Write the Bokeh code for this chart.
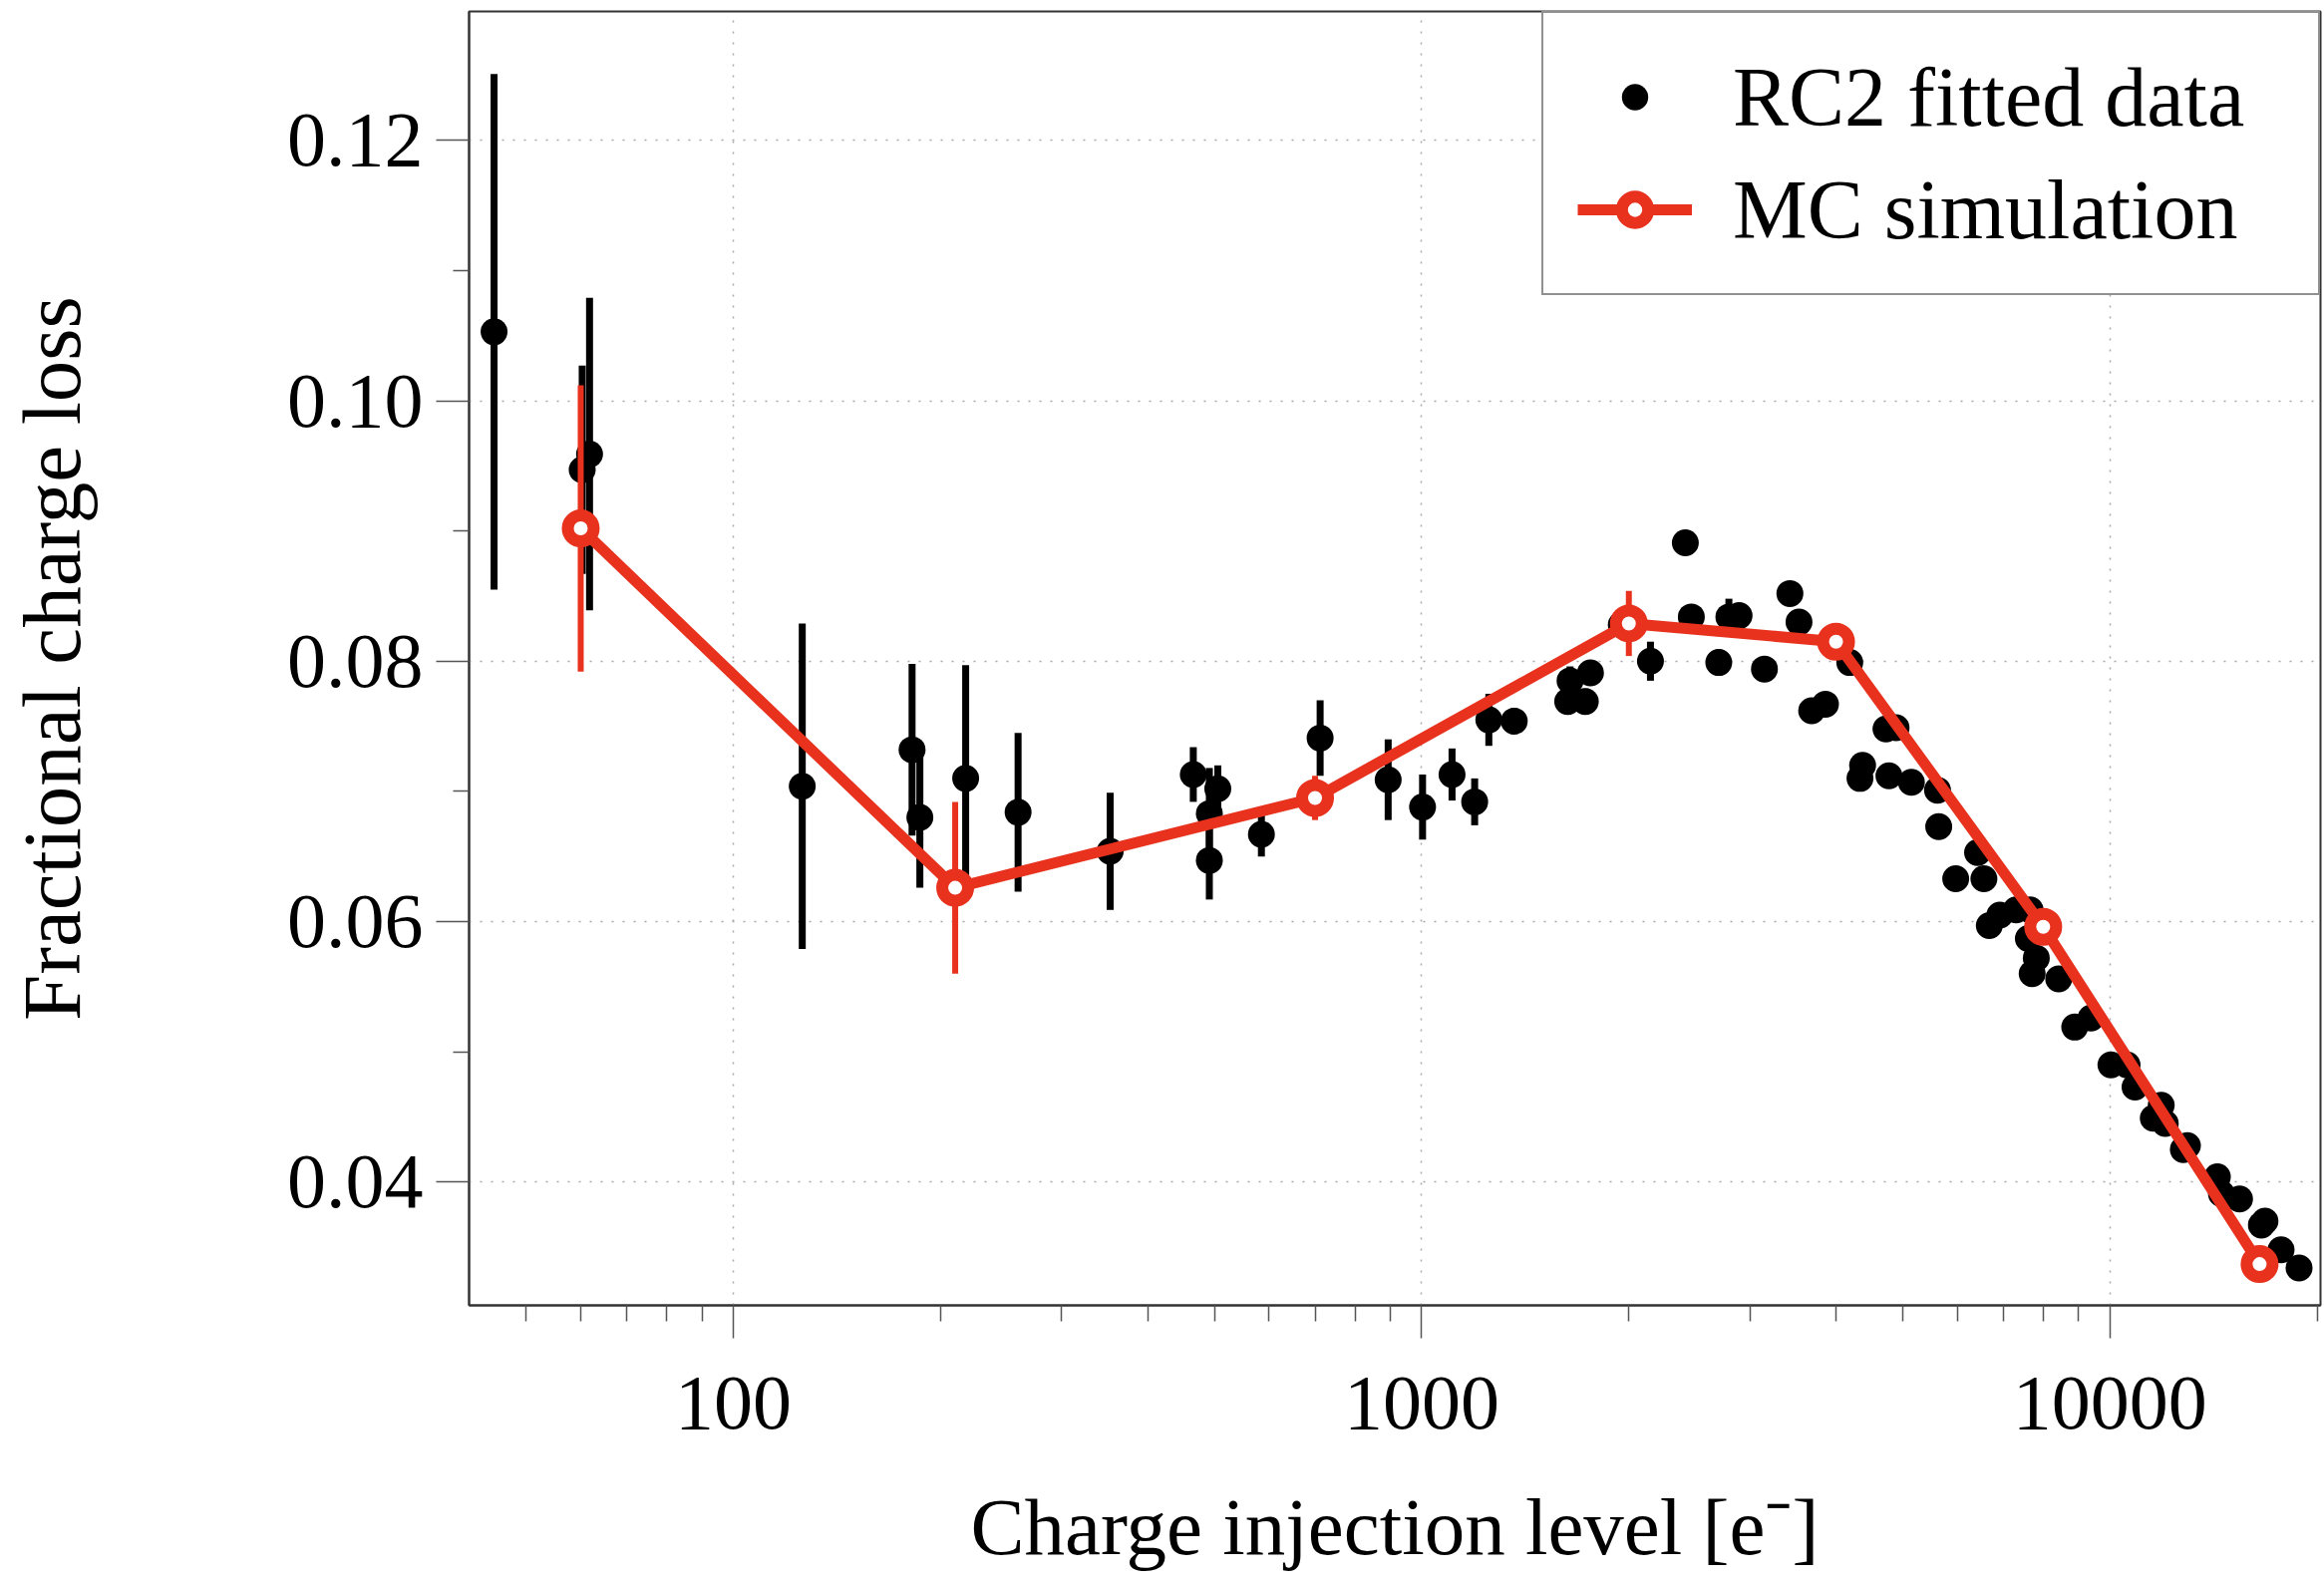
import numpy as np
from bokeh.plotting import figure
from bokeh.models import (ColumnDataSource, Range1d, FixedTicker, NumeralTickFormatter,
                          Legend, LegendItem)
from bokeh.embed import file_html
from bokeh.resources import INLINE

# ---------------- data ----------------
# RC2 fitted data: charge injection level [e-], fractional charge loss, error
data_x = [44.9, 60.3, 61.8, 125.9, 181.8, 186.6, 217.5, 259.2, 352.7, 465.8,
          491.5, 491.5, 505.6, 585, 712, 894, 1003, 1107, 1194, 1252,
          1363, 1630, 1643, 1729, 1759, 1950, 2150, 2416, 2465, 2702,
          2795, 2892, 3148, 3428, 3534, 3687, 3861, 4188, 4334, 4372,
          4728, 4775, 4890, 5147, 5617, 5640, 5970, 6423, 6560, 6680,
          6920, 7307, 7612, 7656, 7710, 7817, 8426, 8890, 9387, 10035,
          10590, 10877, 11562, 11873, 12034, 12786, 12960, 14326, 14525, 15430,
          16600, 16800, 17730, 18830]
data_y = [0.1053, 0.0947, 0.0959, 0.0704, 0.0732, 0.0680, 0.0710, 0.0684, 0.0654, 0.0713,
          0.0683, 0.0647, 0.0702, 0.0667, 0.0741, 0.0709, 0.0688, 0.0713, 0.0692, 0.0755,
          0.0754, 0.0769, 0.0785, 0.0769, 0.0791, 0.0828, 0.0800, 0.0891, 0.0834, 0.0799,
          0.0834, 0.0835, 0.0794, 0.0852, 0.0830, 0.0762, 0.0767, 0.0799, 0.0710, 0.0720,
          0.0748, 0.0712, 0.0749, 0.0707, 0.0701, 0.0673, 0.0633, 0.0653, 0.0633, 0.0597,
          0.0605, 0.0609, 0.0587, 0.0609, 0.0560, 0.0572, 0.0556, 0.0519, 0.0526, 0.0490,
          0.0490, 0.0473, 0.0449, 0.0459, 0.0445, 0.0425, 0.0428, 0.0404, 0.0391, 0.0387,
          0.0367, 0.0370, 0.0348, 0.0334]
data_err = [0.0198, 0.0080, 0.0120, 0.0125, 0.0066, 0.0054, 0.0087, 0.0061, 0.0045, 0.0021,
            0.0035, 0.0030, 0.0018, 0.0017, 0.0029, 0.0031, 0.0025, 0.0020, 0.0018, 0.0020,
            0.0010, 0.0010, 0.0011, 0.0010, 0.0009, 0.0010, 0.0015, 0.0006, 0.0006, 0.0010,
            0.0014, 0.0008, 0.0006, 0.0006, 0.0006, 0.0006, 0.0009, 0.0006, 0.0006, 0.0006,
            0.0005, 0.0005, 0.0005, 0.0005, 0.0005, 0.0005, 0.0005, 0.0005, 0.0005, 0.0005,
            0.0005, 0.0005, 0.0005, 0.0005, 0.0005, 0.0005, 0.0005, 0.0005, 0.0005, 0.0005,
            0.0005, 0.0005, 0.0005, 0.0005, 0.0005, 0.0005, 0.0005, 0.0005, 0.0005, 0.0005,
            0.0005, 0.0005, 0.0005, 0.0005]

# MC simulation
mc_x = [60, 210, 700, 2000, 4000, 8000, 16500]
mc_y = [0.0902, 0.0626, 0.0695, 0.0829, 0.0815, 0.0596, 0.0337]
mc_err = [0.0110, 0.0066, 0.0017, 0.0025, 0.0005, 0.0004, 0.0004]

# axes
x_ticks = [100, 1000, 10000]
x_tick_labels = ["100", "1000", "10000"]
x_minor_ticks = [50, 60, 70, 80, 90, 200, 300, 400, 500, 600, 700, 800, 900,
                 2000, 3000, 4000, 5000, 6000, 7000, 8000, 9000, 20000]
y_ticks = [0.04, 0.06, 0.08, 0.10, 0.12]
y_tick_labels = ["0.04", "0.06", "0.08", "0.10", "0.12"]
y_minor_ticks = [0.05, 0.07, 0.09, 0.11]

x_label = "Charge injection level [e\u207b]"
y_label = "Fractional charge loss"
legend_labels = ["RC2 fitted data", "MC simulation"]

RED = "#e8321e"
FONT = "Liberation Serif"

# ---------------- sources ----------------
dx = np.array(data_x, dtype=float)
dy = np.array(data_y, dtype=float)
de = np.array(data_err, dtype=float)
data_src = ColumnDataSource(dict(x=dx, y=dy, lo=dy - de, hi=dy + de))

mx = np.array(mc_x, dtype=float)
my = np.array(mc_y, dtype=float)
me = np.array(mc_err, dtype=float)
mc_src = ColumnDataSource(dict(x=mx, y=my, lo=my - me, hi=my + me))

# ---------------- figure ----------------
p = figure(width=2331, height=1586, x_axis_type="log",
           x_range=Range1d(41.3, 20230), y_range=Range1d(0.03053, 0.1299),
           output_backend="svg", toolbar_location=None,
           min_border_left=470, min_border_right=4, min_border_top=11,
           min_border_bottom=277)

p.background_fill_color = "white"
p.border_fill_color = "white"
p.outline_line_color = "#333333"
p.outline_line_width = 2

# ticks
p.xaxis.ticker = FixedTicker(ticks=x_ticks, minor_ticks=x_minor_ticks)
p.yaxis.ticker = FixedTicker(ticks=y_ticks, minor_ticks=y_minor_ticks)
p.xaxis.formatter = NumeralTickFormatter(format="0")
p.yaxis.formatter = NumeralTickFormatter(format="0.00")
p.xaxis.major_label_overrides = dict(zip(x_ticks, x_tick_labels))

for ax in (p.xaxis, p.yaxis):
    ax.axis_line_color = "#333333"
    ax.axis_line_width = 2
    ax.major_tick_line_color = "#555555"
    ax.minor_tick_line_color = "#555555"
    ax.major_tick_line_width = 1.5
    ax.minor_tick_line_width = 1.5
    ax.major_tick_in = 0
    ax.minor_tick_in = 0
    ax.major_tick_out = 33
    ax.minor_tick_out = 16
    ax.major_label_text_font = FONT
    ax.major_label_text_font_size = "78px"
    ax.major_label_text_color = "black"
    ax.axis_label_text_font = FONT
    ax.axis_label_text_font_style = "normal"
    ax.axis_label_text_color = "black"

p.xaxis.axis_label_text_font_size = "81px"
p.yaxis.axis_label_text_font_size = "83px"
p.xaxis.axis_label = x_label
p.yaxis.axis_label = y_label
p.xaxis.major_label_standoff = 39
p.yaxis.major_label_standoff = 13
p.xaxis.axis_label_standoff = 51
p.yaxis.axis_label_standoff = 187

# grid
for g in (p.xgrid, p.ygrid):
    g.grid_line_color = "#a8a8a8"
    g.grid_line_width = 1.5
    g.grid_line_dash = "2 9"
p.xgrid.ticker = FixedTicker(ticks=x_ticks)
p.ygrid.ticker = FixedTicker(ticks=y_ticks)

# ---------------- glyphs ----------------
p.segment(x0="x", y0="lo", x1="x", y1="hi", source=data_src,
          line_color="black", line_width=7)
dots = p.scatter(x="x", y="y", source=data_src, marker="circle", size=27,
                 fill_color="black", line_color=None)

p.segment(x0="x", y0="lo", x1="x", y1="hi", source=mc_src,
          line_color=RED, line_width=6)
mc_line = p.line(x="x", y="y", source=mc_src, line_color=RED, line_width=11)
mc_pts = p.scatter(x="x", y="y", source=mc_src, marker="circle", size=26,
                   fill_color="white", line_color=RED, line_width=12)

legend = Legend(items=[LegendItem(label=legend_labels[0], renderers=[dots]),
                       LegendItem(label=legend_labels[1], renderers=[mc_line, mc_pts])],
                location="top_right", margin=0, padding=34, spacing=13,
                glyph_width=115, glyph_height=66, label_standoff=41,
                label_width=553, label_height=100,
                label_text_font=FONT, label_text_font_size="84px",
                label_text_color="black",
                border_line_color="#222222", border_line_width=2,
                background_fill_color="white", background_fill_alpha=1.0)
p.add_layout(legend)

open("out.html", "w").write(file_html(p, INLINE))
